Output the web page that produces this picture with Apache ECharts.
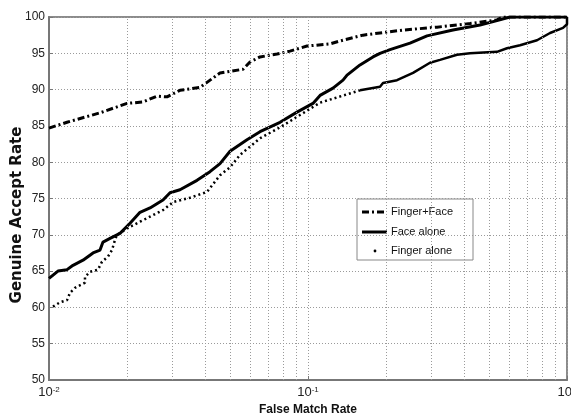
<!DOCTYPE html>
<html><head><meta charset="utf-8">
<script src="https://cdn.jsdelivr.net/npm/echarts@6/dist/echarts.min.js"></script>
<style>html,body{margin:0;padding:0;background:#fff}#c{width:571px;height:418px}</style>
</head><body><div id="c"></div>
<script>
// Finger+Face (fusion)
const fusionFMR = [0.01,0.01174,0.01574,0.02,0.02307,0.02612,0.02855,0.03204,0.03828,0.04074,0.04574,0.05611,0.05971,0.06527,0.07593,0.0852,0.0991,0.1216,0.1329,0.1631,0.1897,0.2327,0.3148,0.4222,0.5366,0.566,1];
const fusionGAR = [84.7,85.5,86.8,88.1,88.3,89.1,89.0,89.9,90.3,91.0,92.3,92.8,93.8,94.5,94.9,95.3,96.0,96.3,96.7,97.5,97.8,98.2,98.6,99.1,99.6,100,100];
// Face alone
const faceFMR = [0.01,0.01083,0.01174,0.01238,0.01353,0.01479,0.01574,0.01616,0.0172,0.0188,0.02055,0.02246,0.02455,0.02755,0.02933,0.03204,0.03728,0.04184,0.04574,0.05,0.05814,0.06527,0.07798,0.09069,0.1045,0.1113,0.1249,0.1365,0.1415,0.1588,0.1782,0.1897,0.2073,0.2477,0.2881,0.3629,0.4615,0.5366,0.6025,1];
const faceGAR = [64.0,65.0,65.2,65.8,66.5,67.5,67.9,69.0,69.5,70.2,71.6,73.1,73.7,74.8,75.8,76.2,77.5,78.7,79.8,81.5,83.1,84.2,85.5,86.9,88.1,89.2,90.2,91.3,92.0,93.4,94.5,95.0,95.5,96.4,97.4,98.2,98.9,99.5,100,100];
// Finger alone (sparse dotted part, then dense part)
const fingerDotFMR = [0.01036,0.01103,0.01174,0.01205,0.0126,0.01377,0.01377,0.0144,0.01546,0.01602,0.0169,0.01751,0.01798,0.0183,0.02055,0.02246,0.02455,0.02755,0.03012,0.03503,0.04074,0.04574,0.05,0.05464,0.06527,0.07798,0.09314,0.1113,0.1588];
const fingerDotGAR = [60.1,60.7,61.0,62.0,62.7,63.4,64.2,64.9,65.2,66.3,67.0,67.9,69.3,70.0,71.1,71.8,72.5,73.4,74.5,75.1,75.9,78.2,79.3,81.0,83.3,84.8,86.5,88.2,89.9];
const fingerDenseFMR = [0.1588,0.1897,0.1948,0.2206,0.2544,0.2958,0.3233,0.3761,0.4222,0.5366,0.5866,0.6586,0.7661,0.86,0.9652,1,1];
const fingerDenseGAR = [89.9,90.4,90.9,91.3,92.3,93.7,94.1,94.8,95.0,95.2,95.7,96.1,96.8,97.8,98.5,99.0,100];
// Axis
const xMin = 0.01, xMax = 1;
const yMin = 50, yMax = 100, yStep = 5;
const xMinorGrid = [0.02,0.03,0.04,0.05,0.06,0.07,0.08,0.09,0.2,0.3,0.4,0.5,0.6,0.7,0.8,0.9];
const legendNames = ['Finger+Face','Face alone','Finger alone'];
const xTitle = 'False Match Rate';
const yTitle = 'Genuine Accept Rate';

const zip = (a, b) => a.map((v, i) => [v, b[i]]);
const FONT = '"Liberation Sans", Arial, sans-serif';
const gridStyle = {color: '#9a9a9a', width: 1, type: [1, 2]};

const chart = echarts.init(document.getElementById('c'), null, {renderer: 'canvas'});
chart.setOption({
  animation: false,
  backgroundColor: '#fff',
  grid: {left: 49, right: 4, top: 17, bottom: 38, containLabel: false, outerBoundsMode: 'none',
    show: true, borderColor: '#666', borderWidth: 1.5, backgroundColor: 'transparent'},
  xAxis: {
    type: 'log', logBase: 10, min: xMin, max: xMax,
    name: xTitle, nameLocation: 'middle', nameGap: 23,
    nameTextStyle: {fontFamily: FONT, fontWeight: 'bold', fontSize: 12, color: '#111'},
    axisLine: {lineStyle: {color: '#777', width: 2}},
    axisTick: {inside: true, length: 4, lineStyle: {color: '#777'}},
    splitLine: {show: true, lineStyle: gridStyle},
    axisLabel: {
      margin: 6, color: '#222', fontFamily: FONT, hideOverlap: false,
      formatter: v => '{b|10}{s|' + Math.round(Math.log10(v)) + '}',
      rich: {b: {fontSize: 13, fontFamily: FONT, color: '#222'}, s: {fontSize: 8, fontFamily: FONT, color: '#222', verticalAlign: 'top'}}
    }
  },
  yAxis: {
    type: 'value', min: yMin, max: yMax, interval: yStep,
    axisLine: {show: true, lineStyle: {color: '#777', width: 2}},
    axisTick: {inside: true, length: 4, lineStyle: {color: '#777'}},
    splitLine: {show: true, lineStyle: gridStyle},
    axisLabel: {margin: 4, fontSize: 12, fontFamily: FONT, color: '#222'}
  },
  series: [
    {
      type: 'line', name: 'grid', data: [], silent: true, symbol: 'none',
      markLine: {
        silent: true, symbol: 'none', label: {show: false},
        lineStyle: {color: '#9a9a9a', width: 1, type: [1, 2]},
        data: xMinorGrid.map(v => ({xAxis: v}))
      }
    },
    {type: 'line', name: legendNames[2], data: zip(fingerDotFMR, fingerDotGAR), symbol: 'none', smooth: false,
      lineStyle: {color: '#000', width: 2.5, type: [2, 3]}},
    {type: 'line', name: legendNames[2] + ' ', data: zip(fingerDenseFMR, fingerDenseGAR), symbol: 'none',
      lineStyle: {color: '#000', width: 2.5}},
    {type: 'line', name: legendNames[1], data: zip(faceFMR, faceGAR), symbol: 'none',
      lineStyle: {color: '#000', width: 3}},
    {type: 'line', name: legendNames[0], data: zip(fusionFMR, fusionGAR), symbol: 'none',
      lineStyle: {color: '#000', width: 3, type: [7, 3, 2, 3]}}
  ],
  graphic: [
    {type: 'text', x: 17, y: 215, rotation: Math.PI / 2, z: 10,
      style: {text: yTitle, font: 'bold 15px "DejaVu Sans", sans-serif', fill: '#111', align: 'center', verticalAlign: 'middle'}},
    {type: 'group', z: 100, children: [
      {type: 'rect', shape: {x: 357, y: 199, width: 116, height: 61}, style: {fill: '#fff', stroke: '#888', lineWidth: 1}},
      {type: 'line', shape: {x1: 362, y1: 212, x2: 387, y2: 212}, style: {stroke: '#000', lineWidth: 3, lineDash: [7, 3, 2, 3]}},
      {type: 'line', shape: {x1: 362, y1: 232, x2: 387, y2: 232}, style: {stroke: '#000', lineWidth: 3}},
      {type: 'circle', shape: {cx: 375, cy: 251, r: 1.4}, style: {fill: '#000'}},
      {type: 'text', x: 391, y: 212, style: {text: legendNames[0], font: '11px ' + FONT, fill: '#111', verticalAlign: 'middle'}},
      {type: 'text', x: 391, y: 232, style: {text: legendNames[1], font: '11px ' + FONT, fill: '#111', verticalAlign: 'middle'}},
      {type: 'text', x: 391, y: 251, style: {text: legendNames[2], font: '11px ' + FONT, fill: '#111', verticalAlign: 'middle'}}
    ]}
  ]
});
</script>
</body></html>
